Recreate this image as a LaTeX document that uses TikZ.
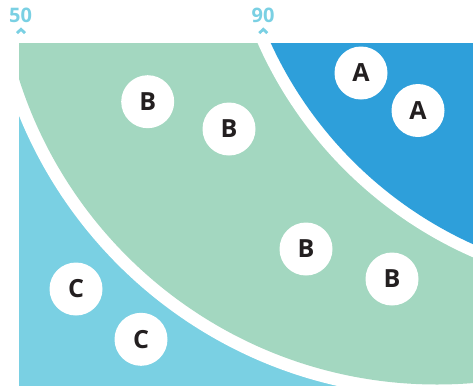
\documentclass[tikz,border=0pt]{standalone}
\usepackage{fontspec}
\setmainfont{Open Sans}
\definecolor{lightb}{HTML}{7AD0E3}
\definecolor{greenb}{HTML}{A3D7C0}
\definecolor{darkb}{HTML}{2E9FDA}
\definecolor{ink}{HTML}{231F20}
\begin{document}
\begin{tikzpicture}[x=1pt,y=-1pt,
  bubble/.style={circle,fill=white,minimum size=53pt,inner sep=0pt,font=\fontsize{25}{25}\selectfont\bfseries,text=ink},
  scalelabel/.style={font=\fontsize{20}{20}\selectfont\bfseries,text=lightb,inner sep=0pt},
  caret/.style={draw=lightb,line width=2.8pt}]
\useasboundingbox (0,0) rectangle (473,386);
\fill[lightb] (19,43) rectangle (473,386);
\begin{scope}
\clip (19,43) rectangle (473,386);
\fill[white] (437,-54) circle[radius=451pt];
\fill[greenb] (437,-54) circle[radius=438.5pt];
\fill[white] (640,-126) circle[radius=418pt];
\fill[darkb] (640,-126) circle[radius=406pt];
\end{scope}
% scale labels
\node[scalelabel] (l50) at (20.5,15) {50};
\node[scalelabel] (l90) at (263,15) {90};
\coordinate (c50) at (21,29.3);
\coordinate (c90) at (263.3,29.3);
\draw[caret] ([xshift=-4pt,yshift=-3.8pt]c50) -- (c50) -- ([xshift=4pt,yshift=-3.8pt]c50);
\draw[caret] ([xshift=-4pt,yshift=-3.8pt]c90) -- (c90) -- ([xshift=4pt,yshift=-3.8pt]c90);
% bubbles
\node[bubble] (a1) at (361,73) {A};
\node[bubble] (a2) at (418,110.5) {A};
\node[bubble] (b1) at (147.7,101.7) {B};
\node[bubble] (b2) at (229,129) {B};
\node[bubble] (b3) at (306,249) {B};
\node[bubble] (b4) at (392,279) {B};
\node[bubble] (c1) at (76,289) {C};
\node[bubble] (c2) at (141,339.3) {C};
\end{tikzpicture}
\end{document}
